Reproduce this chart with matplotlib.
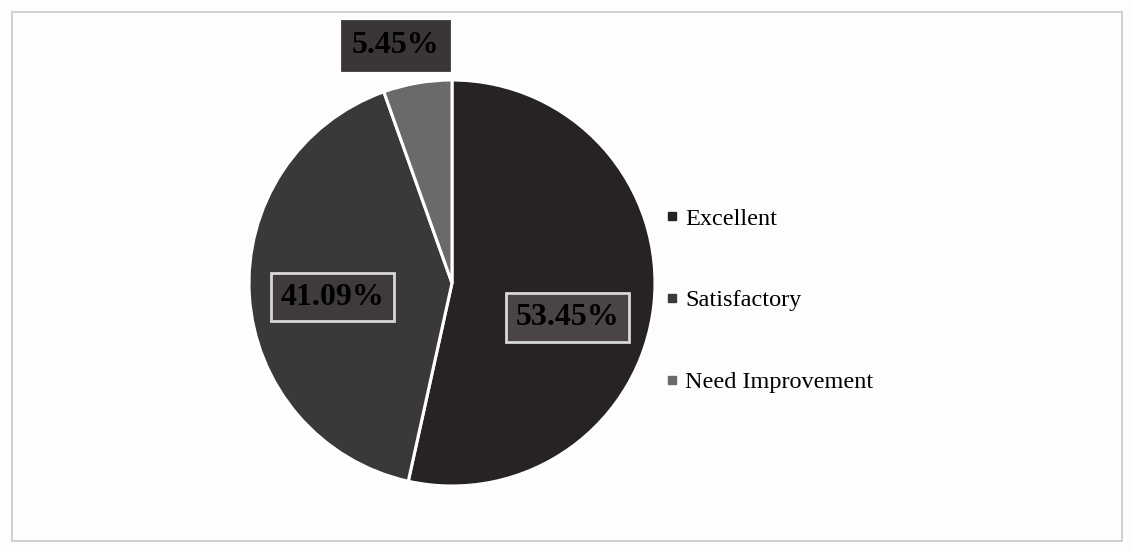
import matplotlib.pyplot as plt
from matplotlib.patches import Rectangle
from matplotlib.lines import Line2D

# data
categories = ['Excellent', 'Satisfactory', 'Need Improvement']
shares = [53.45, 41.09, 5.45]
slice_colors = ['#272324', '#3b3839', '#6b6a6a']
label_fill = ['#4a4446', '#3f3b3c', '#3a3636']

plt.rcParams['font.family'] = ['Liberation Serif', 'DejaVu Serif']

fig = plt.figure(figsize=(11.32, 5.51), dpi=100)
fig.patch.set_facecolor('#fdfdfd')

# light frame around the chart area
fig.patches.append(Rectangle((12 / 1132, 10 / 551), 1110 / 1132, 529 / 551,
                             transform=fig.transFigure, fill=False,
                             edgecolor='#c9c9c9', linewidth=1.2))

# pie axes: centre (452, 283) px, radius ~203 px
cx, cy, r = 452, 551 - 283, 203
ax = fig.add_axes([(cx - r) / 1132, (cy - r) / 551, 2 * r / 1132, 2 * r / 551])
wedges, texts, autotexts = ax.pie(
    shares, colors=slice_colors, startangle=90, counterclock=False,
    autopct=lambda p: f'{p:.2f}%', pctdistance=0.58, radius=1,
    wedgeprops=dict(edgecolor='white', linewidth=2.2),
    textprops=dict(fontsize=23, fontweight='bold', color='black'))
ax.set_xlim(-1, 1)
ax.set_ylim(-1, 1)
ax.set_aspect('auto')

# labels show the exact values with boxes
label_pos = [(0.57, -0.17), (-0.59, -0.07), (-0.28, 1.17)]
label_edge = ['#d8d8d8', '#d8d8d8', '#3a3636']
for t, val, pos, fc, ec in zip(autotexts, shares, label_pos, label_fill, label_edge):
    t.set_text(f'{val:.2f}%')
    t.set_position(pos)
    t.set_clip_on(False)
    t.set_bbox(dict(boxstyle='square,pad=0.3', facecolor=fc, edgecolor=ec, linewidth=2))

handles = [Line2D([0], [0], marker='s', linestyle='none', markersize=6,
                  markerfacecolor=c, markeredgecolor=c) for c in slice_colors]
fig.legend(handles, categories, loc='upper left', bbox_to_anchor=(640 / 1132, 1 - 186 / 551),
           frameon=False, fontsize=17.5, labelspacing=2.45, handletextpad=0.15,
           handlelength=0.8)

fig.savefig('out.png', dpi=100, facecolor=fig.get_facecolor())
